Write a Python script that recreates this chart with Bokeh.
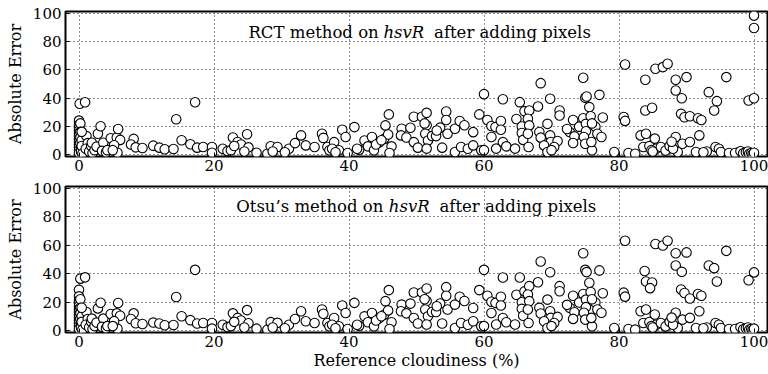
from bokeh.plotting import figure
from bokeh.models import Label, FixedTicker, Range1d
from bokeh.layouts import column
from bokeh.embed import file_html
from bokeh.resources import INLINE

x_ticks = [0, 20, 40, 60, 80, 100]
y_ticks = [0, 20, 40, 60, 80, 100]

# (reference cloudiness %, absolute error) - RCT method on hsvR
rct_points = [
    (0.0, 24), (0.0, 21), (0.0, 19), (0.0, 17), (0.0, 15), (0.0, 13), (0.0, 11), (0.0, 9), (0.0, 7), (0.0, 5),
    (0.0, 3), (0.0, 1), (0.1, 36), (0.2, 22), (0.2, 16), (0.2, 12), (0.2, 8), (0.3, 4), (0.3, 2), (0.4, 10),
    (0.4, 6), (0.5, 0.5),
    (0.9, 37), (1.1, 13), (0.4, 16), (1.3, 8), (1.0, 4), (1.5, 2), (1.8, 6), (2.0, 1), (1.9, 8.3), (2.3, 3),
    (2.6, 5.5), (2.8, 14.7), (3.2, 20), (3.6, 8.3), (3.4, 2.5), (4.0, 1.5), (4.2, 3), (4.7, 11.5), (5.6, 12),
    (5.8, 18), (6.1, 10.3), (5.7, 1.2), (5.2, 6.5), (5.0, 3),
    (8.1, 11), (7.7, 7), (8.4, 5), (9.4, 4.5), (11.0, 6.2), (11.9, 4.8), (12.7, 3.6), (14.0, 3.8), (14.4, 25),
    (15.2, 10), (16.5, 7.2), (17.2, 37), (17.5, 4.8), (18.4, 5.2), (19.7, 5.2), (19.7, 1.2),
    (21.3, 4), (22.0, 2.3), (22.8, 12), (23.5, 8.8), (24.0, 7), (24.9, 14.3), (25.1, 5), (22.5, 3), (23.0, 6),
    (24.5, 2), (26.3, 1.2), (27.9, 0.5), (28.4, 5.8), (29.4, 5.3), (28.7, 2), (31.1, 4), (32.0, 8), (32.9, 13.5),
    (30.5, 1.5),
    (33.6, 6.4), (34.9, 5.2), (36.0, 14.7), (36.2, 11.7), (36.8, 5.2), (37.8, 8.7), (37.1, 2.9), (38.5, 2.9),
    (39.0, 17.5), (39.5, 12.3), (39.8, 1), (37.5, 4), (38.0, 1.5),
    (40.8, 19.4), (41.5, 3.3), (42.3, 9.9), (42.8, 5.7), (43.4, 12.3), (43.7, 2.9), (44.5, 8.7), (45.4, 20.6),
    (45.9, 28.4), (45.2, 11), (45.8, 14.1), (46.3, 5.7), (46.0, 1), (41.2, 4), (44.0, 7), (44.8, 10),
    (47.8, 18.2), (47.7, 13.5), (48.5, 12), (49.1, 18.9), (49.6, 26.7), (49.6, 8.7), (50.2, 4.8), (50.8, 26.7),
    (51.5, 29.5), (51.5, 20.7), (51.3, 14.7), (51.7, 9.9), (51.5, 4.1), (52.3, 13), (52.9, 13), (53.5, 19),
    (53.8, 4.8), (54.4, 30.5), (54.4, 24.4), (54.6, 14.7), (51.2, 22), (53.0, 17),
    (55.7, 18.2), (56.4, 23.7), (57.1, 20.7), (55.7, 1.7), (56.6, 5.2), (57.6, 4), (58.4, 15.8), (58.4, 6.4),
    (59.3, 28.4), (59.6, 2.9), (60.0, 3),
    (60.0, 42.8), (60.5, 24.4), (61.1, 20.2), (61.1, 12.3), (61.7, 19.4), (61.8, 4.1), (62.5, 23.7), (62.5, 17.5),
    (62.8, 39.2), (62.8, 8.7), (63.3, 5.7), (64.6, 4.1), (64.8, 25.1), (65.3, 37.1), (65.6, 19.8), (65.6, 15.2),
    (65.8, 10.3), (66.0, 30.7),
    (66.7, 31.2), (66.5, 25.3), (66.7, 20.6), (66.5, 14.7), (66.6, 5.2), (68.4, 50.6), (68.0, 34), (69.8, 39.5),
    (69.4, 21.7), (68.2, 15.9), (68.4, 11.9), (69.8, 13.5), (69.9, 8.8), (68.9, 6.4), (70.9, 9.5), (70.4, 5.2),
    (69.4, 1.7), (71.2, 31.2), (71.2, 27.6), (70.0, 3),
    (72.7, 15.9), (73.2, 24.4), (73.4, 12.8), (73.2, 8.1), (74.1, 19.7), (74.7, 54.4), (75.0, 40.2), (75.2, 41.1),
    (74.7, 25.7), (75.1, 21.7), (75.6, 33.6), (75.8, 27.1), (75.1, 16.4), (74.8, 12.4), (75.0, 7.6), (76.0, 2.9),
    (75.9, 8.8), (76.5, 19.7), (77.1, 42.3), (76.8, 14.7), (77.4, 12.4), (77.6, 26.2), (72.3, 18), (76.0, 22),
    (79.3, 1.7), (80.7, 26.6), (80.9, 63.8), (80.9, 23.8), (81.4, 1), (82.4, 0.5), (83.2, 13.5), (83.9, 53),
    (83.9, 31.2), (84.9, 33.1), (84.0, 14.7), (83.6, 5.2), (84.5, 5.9), (85.3, 11.2), (85.5, 4), (85.4, 60.8),
    (84.8, 3), (85.0, 2),
    (86.2, 5.2), (86.5, 62), (87.2, 64.4), (86.9, 2.8), (88.4, 53), (88.4, 45.4), (88.4, 12.4), (89.3, 39.9),
    (90.0, 54.9), (89.2, 28.8), (89.7, 26.4), (90.5, 27.1), (89.4, 7.6), (90.5, 8.8), (88.7, 1.7), (91.4, 1.7),
    (91.7, 25.7), (92.2, 24.4), (91.9, 13.5), (87.5, 6), (88.0, 4), (87.8, 9),
    (93.3, 44.2), (94.5, 37.8), (94.1, 31.2), (95.9, 54.9), (94.3, 5.2), (94.8, 4), (95.1, 1.7), (96.3, 1),
    (97.8, 1.7), (97.2, 1), (98.0, 2.2), (98.4, 0.8), (98.8, 1.5), (99.1, 2), (99.3, 0.5), (99.6, 1),
    (99.8, 0.3), (100.0, 1.2), (99.2, 38.3), (100.0, 39.9), (100.0, 89.8), (100.0, 98.6), (93.0, 2), (92.5, 1.5),
]

# (reference cloudiness %, absolute error) - Otsu's method on hsvR
otsu_points = [
    (0.0, 28.6), (0.0, 24), (0.0, 21), (0.0, 19), (0.0, 17), (0.0, 15), (0.0, 13), (0.0, 11), (0.0, 9), (0.0, 7),
    (0.0, 5), (0.0, 3), (0.0, 1), (0.2, 36.5), (0.2, 22), (0.2, 16), (0.2, 12), (0.2, 8), (0.3, 4), (0.3, 2),
    (0.4, 10), (0.4, 6), (0.5, 0.5),
    (0.9, 37.4), (1.1, 13), (0.4, 16), (1.3, 8), (1.0, 4), (1.5, 2), (1.8, 6), (2.0, 1), (1.9, 8.3), (2.3, 3),
    (2.6, 5.5), (2.8, 15.5), (3.2, 19.5), (3.6, 8.3), (3.4, 2.5), (4.0, 1.5), (4.2, 3), (4.7, 11.5), (5.6, 12),
    (5.8, 19.3), (6.1, 10.3), (5.7, 1.2), (5.2, 6.5), (5.0, 3),
    (8.1, 12), (7.7, 8), (8.4, 5), (9.4, 4.5), (11.0, 5.5), (11.9, 4.8), (12.7, 3.6), (14.0, 3.8), (14.4, 23.5),
    (15.2, 10), (16.5, 7.2), (17.2, 42.7), (17.5, 4.8), (18.4, 5.2), (19.7, 5.2), (19.7, 1.2),
    (21.3, 4), (22.0, 2.3), (22.8, 12), (23.5, 8.8), (24.0, 7), (24.9, 14.3), (25.1, 5), (22.5, 3), (23.0, 6),
    (24.5, 2), (26.3, 1.2), (27.9, 0.5), (28.4, 5.8), (29.4, 5.3), (28.7, 2), (31.1, 4), (32.0, 8), (32.9, 13.5),
    (30.5, 1.5),
    (33.6, 6.4), (34.9, 5.2), (36.0, 14.7), (36.2, 11.7), (36.8, 5.2), (37.8, 8.7), (37.1, 2.9), (38.5, 2.9),
    (39.0, 17.5), (39.5, 12.3), (39.8, 1), (37.5, 4), (38.0, 1.5),
    (40.8, 19.4), (41.5, 3.3), (42.3, 9.9), (42.8, 5.7), (43.4, 12.3), (43.7, 2.9), (44.5, 8.7), (45.4, 20.6),
    (45.9, 28.4), (45.2, 11), (45.8, 14.1), (46.3, 5.7), (46.0, 1), (41.2, 4), (44.0, 7), (44.8, 10),
    (47.8, 18.2), (47.7, 13.5), (48.5, 12), (49.1, 18.9), (49.6, 26.7), (49.6, 8.7), (50.2, 4.8), (50.8, 26.7),
    (51.5, 29.5), (51.5, 20.7), (51.3, 14.7), (51.7, 9.9), (51.5, 4.1), (52.3, 13), (52.9, 13), (53.5, 19),
    (53.8, 4.8), (54.4, 30.5), (54.4, 24.4), (54.6, 14.7), (51.2, 22), (53.0, 17),
    (55.7, 18.2), (56.4, 23.7), (57.1, 20.7), (55.7, 1.7), (56.6, 5.2), (57.6, 4), (58.4, 15.8), (58.4, 6.4),
    (59.3, 28.4), (59.6, 2.9), (60.0, 3),
    (60.0, 42.7), (60.5, 24.4), (61.1, 20.2), (61.1, 12.3), (61.7, 19.4), (61.8, 4.1), (62.5, 23.7), (62.5, 17.5),
    (62.8, 37.3), (62.8, 8.7), (63.3, 5.7), (64.6, 4.1), (64.8, 25.1), (65.3, 37.3), (65.6, 19.8), (65.6, 15.2),
    (65.8, 10.3), (66.0, 27.5),
    (66.7, 31.2), (66.5, 25.3), (66.7, 20.6), (66.5, 14.7), (66.6, 5.2), (68.4, 48.6), (68.0, 34), (69.8, 41),
    (69.4, 21.7), (68.2, 15.9), (68.4, 11.9), (69.8, 13.5), (69.9, 8.8), (68.9, 6.4), (70.9, 9.5), (70.4, 5.2),
    (69.4, 1.7), (71.2, 31.2), (71.2, 27.6), (70.0, 3),
    (72.7, 15.9), (73.2, 24.4), (73.4, 12.8), (73.2, 8.1), (74.1, 19.7), (74.7, 54.4), (75.0, 42.7), (75.2, 41.1),
    (74.7, 25.7), (75.1, 21.7), (75.6, 33.6), (75.8, 27.1), (75.1, 16.4), (74.8, 12.4), (75.0, 7.6), (76.0, 2.9),
    (75.9, 8.8), (76.5, 19.7), (77.1, 42.3), (76.8, 14.7), (77.4, 12.4), (77.6, 26.2), (72.3, 18), (76.0, 22),
    (79.3, 1.7), (80.7, 26.6), (80.9, 63.2), (80.9, 23.8), (81.4, 1), (82.4, 0.5), (83.2, 13.5), (83.8, 41.9),
    (84.0, 34.5), (84.9, 33.8), (84.6, 29.8), (84.0, 14.7), (83.6, 5.2), (84.5, 5.9), (85.3, 11.2), (85.5, 4),
    (85.4, 60.9), (84.8, 3), (85.0, 2),
    (86.2, 5.2), (86.5, 59.9), (87.2, 63.2), (86.9, 2.8), (88.4, 54.4), (88.4, 45.8), (88.4, 12.4), (89.3, 41.3),
    (90.0, 55.0), (89.2, 28.8), (89.7, 26.4), (90.5, 22.5), (89.4, 7.6), (90.5, 8.8), (88.7, 1.7), (91.4, 1.7),
    (91.7, 25.7), (92.2, 24.4), (91.9, 13.5), (87.5, 6), (88.0, 4), (87.8, 9),
    (93.3, 45.8), (94.1, 43.9), (94.5, 34.5), (95.9, 56.1), (94.3, 5.2), (94.8, 4), (95.1, 1.7), (96.3, 1),
    (97.8, 1.7), (97.2, 1), (98.0, 2.2), (98.4, 0.8), (98.8, 1.5), (99.1, 2), (99.3, 0.5), (99.6, 1),
    (99.8, 0.3), (100.0, 1.2), (99.2, 35.4), (100.0, 40.9), (93.0, 2), (92.5, 1.5),
]

FONT = "DejaVu Serif"


def make_panel(points, height, border_top, border_bottom, title_parts, show_xlabel):
    p = figure(width=768, height=height, output_backend="svg", toolbar_location=None,
               x_range=Range1d(-2, 102), y_range=Range1d(-1.5, 101.5),
               min_border_left=65, min_border_right=1,
               min_border_top=border_top, min_border_bottom=border_bottom)
    xs = [pt[0] for pt in points]
    ys = [pt[1] for pt in points]
    p.scatter(xs, ys, size=9.5, marker="circle", fill_color="white",
              line_color="black", line_width=1.1)
    p.outline_line_color = "black"
    p.outline_line_width = 2
    p.background_fill_color = "white"
    p.border_fill_color = "white"
    for ax in (p.xaxis, p.yaxis):
        ax.axis_line_color = None
        ax.major_tick_in = 4
        ax.major_tick_out = 0
        ax.minor_tick_line_color = None
        ax.major_label_text_font = FONT
        ax.major_label_text_font_size = "15px"
        ax.major_label_text_color = "black"
        ax.axis_label_text_font = FONT
        ax.axis_label_text_font_size = "16px"
        ax.axis_label_text_font_style = "normal"
        ax.axis_label_text_color = "black"
    p.xaxis.ticker = FixedTicker(ticks=x_ticks)
    p.yaxis.ticker = FixedTicker(ticks=y_ticks)
    p.xaxis.major_label_standoff = 3
    p.yaxis.major_label_standoff = 4
    p.yaxis.axis_label = "Absolute Error"
    p.yaxis.axis_label_standoff = 5
    if show_xlabel:
        p.xaxis.axis_label = "Reference cloudiness (%)"
        p.xaxis.axis_label_standoff = 1
    p.grid.grid_line_color = "black"
    p.grid.grid_line_dash = "1 3"
    p.grid.grid_line_width = 1
    p.grid.grid_line_alpha = 0.9
    p.xgrid.ticker = FixedTicker(ticks=x_ticks)
    p.ygrid.ticker = FixedTicker(ticks=y_ticks)

    left, ital, right, xl, xi, xr, ty = title_parts
    p.add_layout(Label(x=xl, y=ty, text=left, text_align="right", text_baseline="alphabetic",
                       text_font=FONT, text_font_size="16.5px", text_color="black"))
    p.add_layout(Label(x=xi, y=ty, text=ital, text_align="left", text_baseline="alphabetic",
                       text_font=FONT, text_font_size="16.5px", text_font_style="italic",
                       text_color="black"))
    p.add_layout(Label(x=xr, y=ty, text=right, text_align="left", text_baseline="alphabetic",
                       text_font=FONT, text_font_size="16.5px", text_color="black"))
    return p


top = make_panel(rct_points, 180, 11, 24,
                 ("RCT method on", "hsvR", "after adding pixels", 44.4, 45.1, 52.6, 86.5), False)
bottom = make_panel(otsu_points, 194, 6, 42,
                    ("Otsu\u2019s method on", "hsvR", "after adding pixels", 45.1, 45.9, 53.4, 87.5), True)

layout = column(top, bottom, spacing=0)
open("out.html", "w").write(file_html(layout, INLINE))
